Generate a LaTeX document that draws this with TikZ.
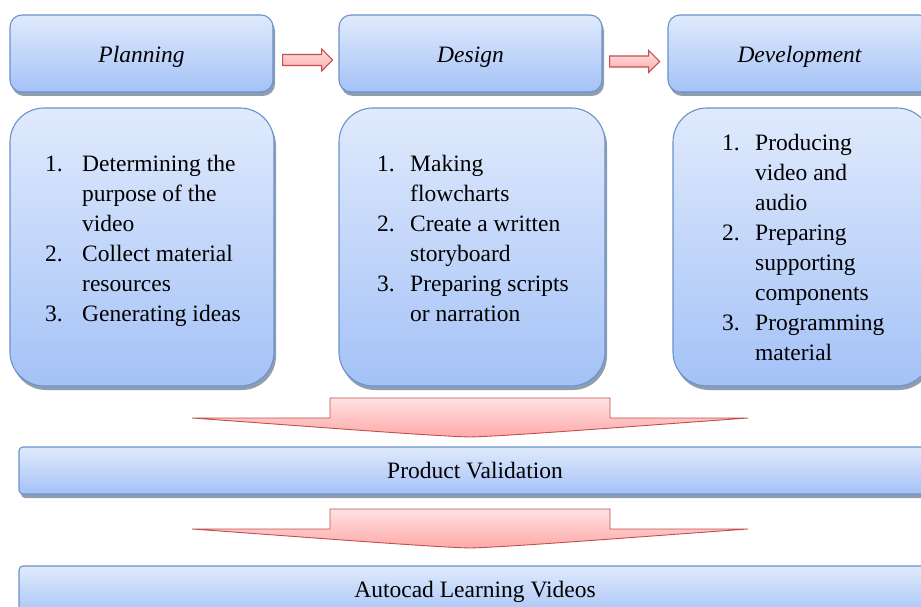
\documentclass[tikz,border=0pt]{standalone}
\usepackage{fontspec}
\setmainfont{Liberation Serif}
\usetikzlibrary{calc}

\definecolor{boxtop}{HTML}{E0EAFC}
\definecolor{boxbot}{HTML}{A4C2F7}
\definecolor{boxline}{HTML}{6B92C9}
\definecolor{shadowgray}{HTML}{8E9DB0}
\definecolor{arrtop}{HTML}{FFE2E2}
\definecolor{arrbot}{HTML}{FFA9A9}
\definecolor{arrline}{HTML}{C0504D}

% number column of the enumerated lists
\newcommand{\numitem}[2]{\makebox[#1][l]{#2}}

\tikzset{
  bluebox/.style={draw=boxline, line width=1.1pt, top color=boxtop, bottom color=boxbot,
    preaction={fill=shadowgray, transform canvas={xshift=2pt, yshift=-4pt}}},
  phasebox/.style={bluebox, rounded corners=12pt, minimum width=263pt, minimum height=77pt,
    inner sep=0pt, text height=21pt, text depth=2pt, font=\fontsize{23.5}{28}\selectfont\itshape},
  listbox/.style={bluebox, rounded corners=34pt, minimum height=278pt, inner sep=0pt},
  listtext/.style={font=\fontsize{23.5}{30}\selectfont, align=left, inner sep=0pt, anchor=west},
  barbox/.style={bluebox, rounded corners=4pt, minimum width=912pt, inner sep=0pt,
    font=\fontsize{23.5}{28}\selectfont},
  blockarrow/.style={draw=arrline, line width=1.1pt, top color=arrtop, bottom color=arrbot, line join=miter},
}

\begin{document}
\begin{tikzpicture}[x=1pt, y=-1pt]
\useasboundingbox (0,0) rectangle (921,607);
\clip (0,0) rectangle (921,607);
\fill[white] (0,0) rectangle (921,607);

% phase headers
\node[phasebox] (plan) at (141.5,53.5) {Planning};
\node[phasebox] (design) at (470.5,53.5) {Design};
\node[phasebox] (devel) at (799.5,53.5) {Development};

% activity lists
\node[listbox, minimum width=264pt] (planlist) at (142,247) {};
\node[listbox, minimum width=266pt] (designlist) at (472,247) {};
\node[listbox, minimum width=258pt] (devlist) at (802,247) {};

\node[listtext] (plantext) at (45,241) {%
  \numitem{37pt}{1.}Determining the\\
  \hspace*{37pt}purpose of the\\
  \hspace*{37pt}video\\
  \numitem{37pt}{2.}Collect material\\
  \hspace*{37pt}resources\\
  \numitem{37pt}{3.}Generating ideas};

\node[listtext] (designtext) at (377,238) {%
  \numitem{33pt}{1.}Making\\
  \hspace*{33pt}flowcharts\\
  \numitem{33pt}{2.}Create a written\\
  \hspace*{33pt}storyboard\\
  \numitem{33pt}{3.}Preparing scripts\\
  \hspace*{33pt}or narration};

\node[listtext] (devtext) at (722,247) {%
  \numitem{33pt}{1.}Producing\\
  \hspace*{33pt}video and\\
  \hspace*{33pt}audio\\
  \numitem{33pt}{2.}Preparing\\
  \hspace*{33pt}supporting\\
  \hspace*{33pt}components\\
  \numitem{33pt}{3.}Programming\\
  \hspace*{33pt}material};

% outcome bars
\node[barbox, minimum height=47pt] (valid) at (475,470.5) {Product Validation};
\node[barbox, minimum height=52pt] (videos) at (475,592) {Autocad Learning Videos};

% block arrows between the phase headers
\coordinate (a1) at ($(plan.east)+(9,6.5)$);
\coordinate (a2) at ($(design.east)+(7,8)$);
\foreach \s in {a1,a2}
  \draw[blockarrow] (\s) ++(0,-5.5) -- ++(39,0) -- ++(0,-5.5) -- ++(11,11)
    -- ++(-11,11) -- ++(0,-5.5) -- ++(-39,0) -- cycle;

% wide downward arrows
\coordinate (d1) at (470,398);
\coordinate (d2) at (470,509);
\foreach \s in {d1,d2}
  \draw[blockarrow, line width=0.9pt] (\s) ++(-140,0) -- ++(280,0) -- ++(0,20) -- ++(138,0)
    .. controls +(-98,7) and +(40,-1) .. ++(-278,19)
    .. controls +(-40,-1) and +(98,7) .. ++(-278,-19)
    -- ++(138,0) -- cycle;
\end{tikzpicture}
\end{document}
